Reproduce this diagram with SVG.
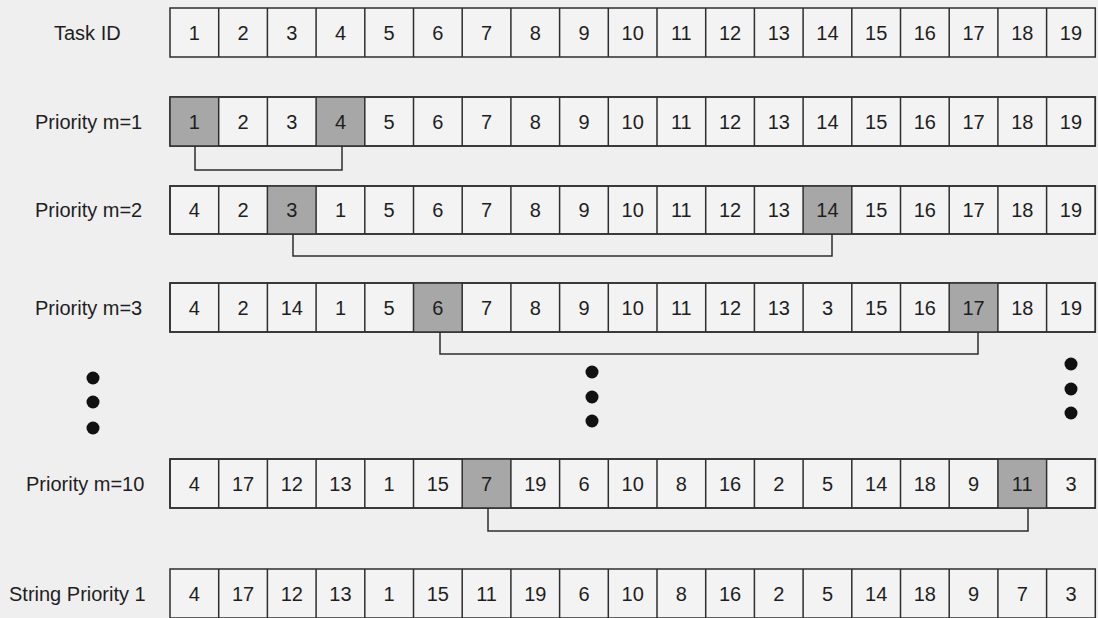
<svg xmlns="http://www.w3.org/2000/svg" width="1098" height="618" viewBox="0 0 1098 618">
<style>
.bg{fill:#efefef}
.row{fill:#f3f3f3;stroke:#2e2e2e;stroke-width:1.5}
.div{fill:none;stroke:#2e2e2e;stroke-width:1.5}
.hl{fill:#a7a7a7}
.lbl{font-family:"Liberation Sans",Arial,sans-serif;font-size:20px;fill:#1e1e1e}
.n{font-family:"Liberation Sans",Arial,sans-serif;font-size:20px;fill:#1e1e1e;text-anchor:middle}
.con{fill:none;stroke:#2e2e2e;stroke-width:1.5}
.dot{fill:#111}
</style>
<defs>
<path id="divs" d="M218.7,0 v49 m48.7,-49 v49 m48.7,-49 v49 m48.7,-49 v49 m48.7,-49 v49 m48.7,-49 v49 m48.7,-49 v49 m48.7,-49 v49 m48.7,-49 v49 m48.7,-49 v49 m48.7,-49 v49 m48.7,-49 v49 m48.7,-49 v49 m48.7,-49 v49 m48.7,-49 v49 m48.7,-49 v49 m48.7,-49 v49 m48.7,-49 v49"/>
</defs>
<rect class="bg" x="0" y="0" width="1098" height="618"/>

<g id="row-taskid" transform="translate(0,8)">
<text class="lbl" x="54" y="31.5">Task ID</text>
<rect class="row" x="170" y="0" width="925.3" height="49"/>
<use href="#divs" class="div"/>
<text class="n" x="194.35" y="31.5">1</text><text class="n" x="243.05" y="31.5">2</text><text class="n" x="291.75" y="31.5">3</text><text class="n" x="340.45" y="31.5">4</text><text class="n" x="389.15" y="31.5">5</text><text class="n" x="437.85" y="31.5">6</text><text class="n" x="486.55" y="31.5">7</text><text class="n" x="535.25" y="31.5">8</text><text class="n" x="583.95" y="31.5">9</text><text class="n" x="632.65" y="31.5">10</text><text class="n" x="681.35" y="31.5">11</text><text class="n" x="730.05" y="31.5">12</text><text class="n" x="778.75" y="31.5">13</text><text class="n" x="827.45" y="31.5">14</text><text class="n" x="876.15" y="31.5">15</text><text class="n" x="924.85" y="31.5">16</text><text class="n" x="973.55" y="31.5">17</text><text class="n" x="1022.25" y="31.5">18</text><text class="n" x="1070.95" y="31.5">19</text>
</g>

<g id="row-m1" transform="translate(0,97)">
<text class="lbl" x="35" y="31.5">Priority m=1</text>
<rect class="row" x="170" y="0" width="925.3" height="49"/>
<rect class="hl" x="170" y="0" width="48.7" height="49"/>
<rect class="hl" x="316.1" y="0" width="48.7" height="49"/>
<rect class="div" x="170" y="0" width="925.3" height="49"/>
<use href="#divs" class="div"/>
<text class="n" x="194.35" y="31.5">1</text><text class="n" x="243.05" y="31.5">2</text><text class="n" x="291.75" y="31.5">3</text><text class="n" x="340.45" y="31.5">4</text><text class="n" x="389.15" y="31.5">5</text><text class="n" x="437.85" y="31.5">6</text><text class="n" x="486.55" y="31.5">7</text><text class="n" x="535.25" y="31.5">8</text><text class="n" x="583.95" y="31.5">9</text><text class="n" x="632.65" y="31.5">10</text><text class="n" x="681.35" y="31.5">11</text><text class="n" x="730.05" y="31.5">12</text><text class="n" x="778.75" y="31.5">13</text><text class="n" x="827.45" y="31.5">14</text><text class="n" x="876.15" y="31.5">15</text><text class="n" x="924.85" y="31.5">16</text><text class="n" x="973.55" y="31.5">17</text><text class="n" x="1022.25" y="31.5">18</text><text class="n" x="1070.95" y="31.5">19</text>
</g>

<g id="row-m2" transform="translate(0,186)">
<text class="lbl" x="35" y="31">Priority m=2</text>
<rect class="row" x="170" y="0" width="925.3" height="48"/>
<rect class="hl" x="267.4" y="0" width="48.7" height="48"/>
<rect class="hl" x="803.1" y="0" width="48.7" height="48"/>
<rect class="div" x="170" y="0" width="925.3" height="48"/>
<use href="#divs" class="div" transform="scale(1,0.98)"/>
<text class="n" x="194.35" y="31">4</text><text class="n" x="243.05" y="31">2</text><text class="n" x="291.75" y="31">3</text><text class="n" x="340.45" y="31">1</text><text class="n" x="389.15" y="31">5</text><text class="n" x="437.85" y="31">6</text><text class="n" x="486.55" y="31">7</text><text class="n" x="535.25" y="31">8</text><text class="n" x="583.95" y="31">9</text><text class="n" x="632.65" y="31">10</text><text class="n" x="681.35" y="31">11</text><text class="n" x="730.05" y="31">12</text><text class="n" x="778.75" y="31">13</text><text class="n" x="827.45" y="31">14</text><text class="n" x="876.15" y="31">15</text><text class="n" x="924.85" y="31">16</text><text class="n" x="973.55" y="31">17</text><text class="n" x="1022.25" y="31">18</text><text class="n" x="1070.95" y="31">19</text>
</g>

<g id="row-m3" transform="translate(0,283)">
<text class="lbl" x="35" y="31.5">Priority m=3</text>
<rect class="row" x="170" y="0" width="925.3" height="49"/>
<rect class="hl" x="413.5" y="0" width="48.7" height="49"/>
<rect class="hl" x="949.2" y="0" width="48.7" height="49"/>
<rect class="div" x="170" y="0" width="925.3" height="49"/>
<use href="#divs" class="div"/>
<text class="n" x="194.35" y="31.5">4</text><text class="n" x="243.05" y="31.5">2</text><text class="n" x="291.75" y="31.5">14</text><text class="n" x="340.45" y="31.5">1</text><text class="n" x="389.15" y="31.5">5</text><text class="n" x="437.85" y="31.5">6</text><text class="n" x="486.55" y="31.5">7</text><text class="n" x="535.25" y="31.5">8</text><text class="n" x="583.95" y="31.5">9</text><text class="n" x="632.65" y="31.5">10</text><text class="n" x="681.35" y="31.5">11</text><text class="n" x="730.05" y="31.5">12</text><text class="n" x="778.75" y="31.5">13</text><text class="n" x="827.45" y="31.5">3</text><text class="n" x="876.15" y="31.5">15</text><text class="n" x="924.85" y="31.5">16</text><text class="n" x="973.55" y="31.5">17</text><text class="n" x="1022.25" y="31.5">18</text><text class="n" x="1070.95" y="31.5">19</text>
</g>

<g id="ellipsis">
<circle class="dot" cx="93" cy="378" r="6.5"/><circle class="dot" cx="93" cy="402" r="6.5"/><circle class="dot" cx="93" cy="428" r="6.5"/>
<circle class="dot" cx="592" cy="372" r="6.5"/><circle class="dot" cx="592" cy="397" r="6.5"/><circle class="dot" cx="592" cy="421" r="6.5"/>
<circle class="dot" cx="1071" cy="364" r="6.5"/><circle class="dot" cx="1071" cy="389" r="6.5"/><circle class="dot" cx="1071" cy="413" r="6.5"/>
</g>

<g id="row-m10" transform="translate(0,459)">
<text class="lbl" x="26" y="31.5">Priority m=10</text>
<rect class="row" x="170" y="0" width="925.3" height="49"/>
<rect class="hl" x="462.2" y="0" width="48.7" height="49"/>
<rect class="hl" x="997.9" y="0" width="48.7" height="49"/>
<rect class="div" x="170" y="0" width="925.3" height="49"/>
<use href="#divs" class="div"/>
<text class="n" x="194.35" y="31.5">4</text><text class="n" x="243.05" y="31.5">17</text><text class="n" x="291.75" y="31.5">12</text><text class="n" x="340.45" y="31.5">13</text><text class="n" x="389.15" y="31.5">1</text><text class="n" x="437.85" y="31.5">15</text><text class="n" x="486.55" y="31.5">7</text><text class="n" x="535.25" y="31.5">19</text><text class="n" x="583.95" y="31.5">6</text><text class="n" x="632.65" y="31.5">10</text><text class="n" x="681.35" y="31.5">8</text><text class="n" x="730.05" y="31.5">16</text><text class="n" x="778.75" y="31.5">2</text><text class="n" x="827.45" y="31.5">5</text><text class="n" x="876.15" y="31.5">14</text><text class="n" x="924.85" y="31.5">18</text><text class="n" x="973.55" y="31.5">9</text><text class="n" x="1022.25" y="31.5">11</text><text class="n" x="1070.95" y="31.5">3</text>
</g>

<g id="row-string" transform="translate(0,569)">
<text class="lbl" x="9" y="31.5">String Priority 1</text>
<rect class="row" x="170" y="0" width="925.3" height="49"/>
<use href="#divs" class="div"/>
<text class="n" x="194.35" y="31.5">4</text><text class="n" x="243.05" y="31.5">17</text><text class="n" x="291.75" y="31.5">12</text><text class="n" x="340.45" y="31.5">13</text><text class="n" x="389.15" y="31.5">1</text><text class="n" x="437.85" y="31.5">15</text><text class="n" x="486.55" y="31.5">11</text><text class="n" x="535.25" y="31.5">19</text><text class="n" x="583.95" y="31.5">6</text><text class="n" x="632.65" y="31.5">10</text><text class="n" x="681.35" y="31.5">8</text><text class="n" x="730.05" y="31.5">16</text><text class="n" x="778.75" y="31.5">2</text><text class="n" x="827.45" y="31.5">5</text><text class="n" x="876.15" y="31.5">14</text><text class="n" x="924.85" y="31.5">18</text><text class="n" x="973.55" y="31.5">9</text><text class="n" x="1022.25" y="31.5">7</text><text class="n" x="1070.95" y="31.5">3</text>
</g>

<g id="connectors">
<polyline class="con" points="195,146 195,170 342,170 342,146"/>
<polyline class="con" points="293,234 293,256 832,256 832,234"/>
<polyline class="con" points="440,332 440,354 978,354 978,332"/>
<polyline class="con" points="488,508 488,531 1028,531 1028,508"/>
</g>
</svg>
